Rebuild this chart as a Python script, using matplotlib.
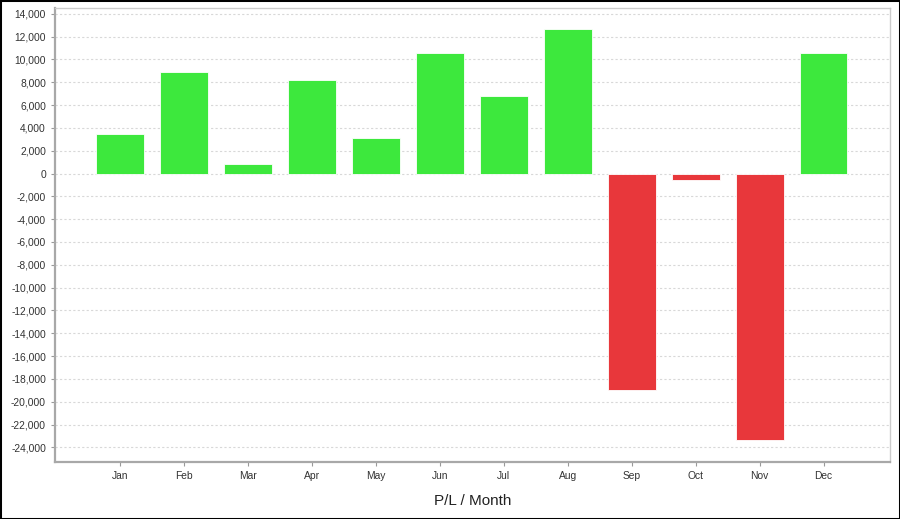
import matplotlib
matplotlib.use("Agg")
import matplotlib.pyplot as plt
from matplotlib.ticker import FuncFormatter, MultipleLocator
from matplotlib.patches import Rectangle

months = ["Jan", "Feb", "Mar", "Apr", "May", "Jun", "Jul", "Aug", "Sep", "Oct", "Nov", "Dec"]
pl_values = [3480, 8860, 860, 8160, 3110, 10550, 6790, 12650, -18990, -600, -23360, 10520]

GREEN = "#3de83d"
RED = "#e8373b"

plt.rcParams["font.family"] = ["Liberation Sans", "DejaVu Sans"]

fig = plt.figure(figsize=(9, 5.19), dpi=100)
ax = fig.add_axes([55 / 900, 1 - 461.7 / 519, (890 - 55) / 900, (461.7 - 8) / 519])

colors = [GREEN if v >= 0 else RED for v in pl_values]
x = list(range(len(months)))
ax.bar(x, pl_values, width=0.75, color=colors, edgecolor="white", linewidth=0.6, zorder=3)

ax.set_xlim(-1.02, 12.04)
ax.set_ylim(-25250, 14500)
ax.yaxis.set_major_locator(MultipleLocator(2000))
ax.yaxis.set_major_formatter(FuncFormatter(lambda v, p: f"{int(v):,}"))
ax.set_xticks(x)
ax.set_xticklabels(months)

ax.grid(axis="y", color="#d8d8d8", linestyle=(0, (2, 2)), linewidth=0.8, zorder=0)
ax.tick_params(axis="both", labelsize=7.4, colors="#999999", labelcolor="#333333", length=3, width=0.8)
ax.tick_params(axis="x", pad=4)

for s in ["top", "right"]:
    ax.spines[s].set_color("#cccccc")
    ax.spines[s].set_linewidth(1.0)
for s in ["left", "bottom"]:
    ax.spines[s].set_color("#a8a8a8")
    ax.spines[s].set_linewidth(1.6)

ax.set_xlabel("P/L / Month", fontsize=11, color="#222222", labelpad=9)

fig.patches.append(Rectangle((0, 0), 1, 1, transform=fig.transFigure, fill=False,
                             edgecolor="black", linewidth=2.2))

fig.savefig("out.png", dpi=100, facecolor="white")
